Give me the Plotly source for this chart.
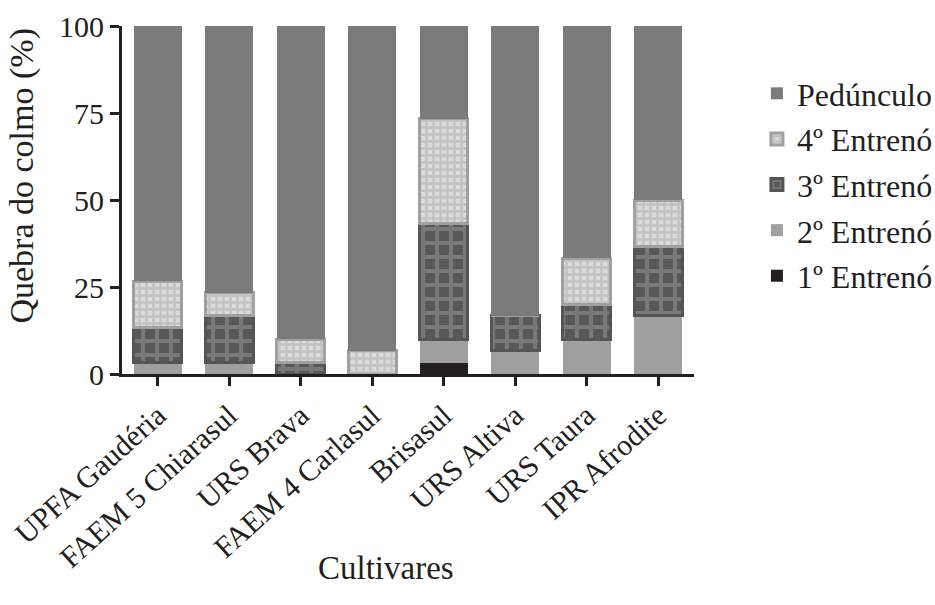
import plotly.graph_objects as go

# Cultivars on the x axis
cultivares = ["UPFA Gaudéria", "FAEM 5 Chiarasul", "URS Brava", "FAEM 4 Carlasul",
              "Brisasul", "URS Altiva", "URS Taura", "IPR Afrodite"]

# Share (%) of stem breakage at each position, per cultivar
entreno_1 = [0.0, 0.0, 0.0, 0.0, 3.3, 0.0, 0.0, 0.0]
entreno_2 = [3.3, 3.3, 0.0, 0.0, 6.7, 6.7, 10.0, 16.7]
entreno_3 = [10.0, 13.4, 3.3, 0.0, 33.3, 10.0, 10.0, 20.0]
entreno_4 = [13.4, 6.6, 6.7, 6.7, 30.0, 0.0, 13.3, 13.3]
pedunculo = [73.3, 76.7, 90.0, 93.3, 26.7, 83.3, 66.7, 50.0]

y_ticks = [0, 25, 50, 75, 100]

FONT = "Times New Roman, Liberation Serif, DejaVu Serif, serif"
INK = "#231f20"

fig = go.Figure()

series = [
    ("1º Entrenó", entreno_1, 5, dict(color=INK, line=dict(color=INK, width=0))),
    ("2º Entrenó", entreno_2, 4, dict(color="#a0a0a2", line=dict(color="#a0a0a2", width=0))),
    ("3º Entrenó", entreno_3, 3, dict(color="#5a5a5c",
                                      line=dict(color="#555557", width=3),
                                      pattern=dict(shape="+", size=14, solidity=0.5,
                                                   fgcolor="#98989a", bgcolor="#58585a"))),
    ("4º Entrenó", entreno_4, 2, dict(color="#a0a0a2",
                                      line=dict(color="#a0a0a2", width=3),
                                      pattern=dict(shape="+", size=7, solidity=0.55,
                                                   fgcolor="#a9a9ab", bgcolor="#dadadc"))),
    ("Pedúnculo", pedunculo, 1, dict(color="#7b7b7e", line=dict(color="#7b7b7e", width=0))),
]

for i, (name, vals, rank, marker) in enumerate(series):
    fig.add_trace(go.Bar(
        x=cultivares, y=vals, name=name, marker=marker,
        legendgroup=f"g{i}", legendrank=rank, width=0.67,
    ))

fig.update_layout(
    barmode="stack",
    width=935, height=605,
    margin=dict(l=122, r=241, t=26, b=231, autoexpand=False),
    paper_bgcolor="white", plot_bgcolor="white",
    font=dict(family=FONT, size=31, color=INK),
    showlegend=True,
    legend=dict(
        x=1.110, y=0.885, xanchor="left", yanchor="top",
        traceorder="grouped", tracegroupgap=1,
        font=dict(family=FONT, size=32, color=INK),
        bgcolor="rgba(0,0,0,0)",
    ),
    xaxis=dict(
        automargin=False,
        tickangle=-42, tickfont=dict(family=FONT, size=30),
        showline=True, linecolor=INK, linewidth=3,
        ticks="outside", ticklen=9, tickwidth=3, tickcolor=INK,
        range=[-0.5, 7.5], showgrid=False, zeroline=False,
    ),
    yaxis=dict(
        automargin=False,
        range=[0, 100], tickvals=y_ticks, ticktext=[str(v) for v in y_ticks],
        tickfont=dict(family=FONT, size=30),
        showline=True, linecolor=INK, linewidth=3,
        ticks="outside", ticklen=9, tickwidth=3, tickcolor=INK,
        showgrid=False, zeroline=False,
    ),
    annotations=[
        dict(text="Cultivares", xref="paper", yref="paper", x=0.4615, y=-0.557,
             xanchor="center", yanchor="middle", showarrow=False,
             font=dict(family=FONT, size=33, color=INK)),
        dict(text="Quebra do colmo (%)", xref="paper", yref="paper", x=-0.175, y=0.57,
             xanchor="center", yanchor="middle", textangle=-90, showarrow=False,
             font=dict(family=FONT, size=34, color=INK)),
    ],
)

fig.write_html("out.html")
